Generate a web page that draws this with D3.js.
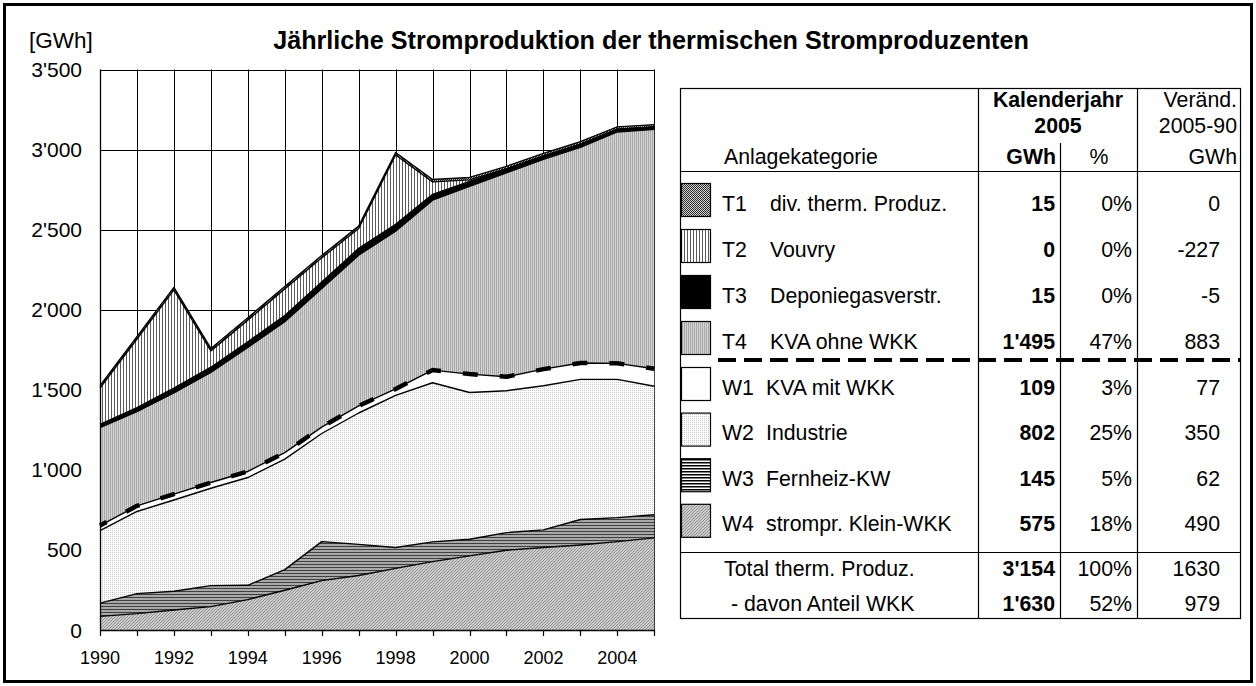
<!DOCTYPE html>
<html><head><meta charset="utf-8">
<script src="https://cdn.jsdelivr.net/npm/d3@7"></script>
<style>
body{margin:0;background:#fff}
svg{display:block}
text{font-family:"Liberation Sans",Arial,Helvetica,sans-serif;fill:#000}
</style></head>
<body><svg id="chart" width="1256" height="686"></svg>
<script>
// ---------- DATA ----------
const years = [1990,1991,1992,1993,1994,1995,1996,1997,1998,1999,2000,2001,2002,2003,2004,2005];
const W4 = [85,102,125,146,190,248,308,340,385,427,463,498,515,531,552,575];   // strompr. Klein-WKK
const W3 = [83,125,117,131,89,129,244,195,130,123,104,110,110,159,150,145];    // Fernheiz-KW
const W2 = [452,513,570,608,673,690,675,820,950,994,916,886,900,875,863,802];  // Industrie
const W1 = [32,35,36,36,38,41,40,45,40,79,115,87,104,102,100,109];             // KVA mit WKK
const T4 = [612,588,633,687,775,817,866,941,985,1061,1173,1274,1310,1347,1445,1495]; // KVA ohne WKK
const T3 = [20,25,30,33,35,38,40,42,43,36,30,25,22,20,17,15];                  // Deponiegasverstr.
const T2 = [227,429,613,102,135,167,151,124,433,78,10,0,0,0,0,0];              // Vouvry
const T1 = [15,15,15,15,15,15,15,15,15,15,15,15,15,15,15,15];                  // div. therm. Produz.

const yTicks = [0,500,1000,1500,2000,2500,3000,3500];
const yTickLabels = ["0","500","1'000","1'500","2'000","2'500","3'000","3'500"];
const xLabelYears = [1990,1992,1994,1996,1998,2000,2002,2004];

const title = "Jährliche Stromproduktion der thermischen Stromproduzenten";
const unitLabel = "[GWh]";

const tableCodes = ["T1","T2","T3","T4","W1","W2","W3","W4"];
const tableNames = ["div. therm. Produz.","Vouvry","Deponiegasverstr.","KVA ohne WKK","KVA mit WKK","Industrie","Fernheiz-KW","strompr. Klein-WKK"];
const tableGWh = ["15","0","15","1'495","109","802","145","575"];
const tablePct = ["0%","0%","0%","47%","3%","25%","5%","18%"];
const tableChange = ["0","-227","-5","883","77","350","62","490"];
const totalLabels = ["Total therm. Produz.","- davon Anteil WKK"];
const totalGWh = ["3'154","1'630"];
const totalPct = ["100%","52%"];
const totalChange = ["1630","979"];

// ---------- SETUP ----------
const svg = d3.select("#chart");
const defs = svg.append("defs");

function pat(id, w, h, draw){
  const p = defs.append("pattern").attr("id",id).attr("patternUnits","userSpaceOnUse")
    .attr("width",w).attr("height",h);
  draw(p);
}
pat("pT1",2,2,p=>{p.append("rect").attr("width",2).attr("height",2).attr("fill","#d0d0d0");
  p.append("rect").attr("width",1).attr("height",1).attr("fill","#303030");
  p.append("rect").attr("x",1).attr("y",1).attr("width",1).attr("height",1).attr("fill","#303030");});
pat("pT2",3,3,p=>{p.append("rect").attr("width",3).attr("height",3).attr("fill","#fff");
  p.append("rect").attr("width",1).attr("height",3).attr("fill","#5a5a5a");});
pat("pT4",2,2,p=>{p.append("rect").attr("width",2).attr("height",2).attr("fill","#d4d4d4");
  p.append("rect").attr("width",1).attr("height",2).attr("fill","#a8a8a8");});
pat("pW2",2,2,p=>{p.append("rect").attr("width",2).attr("height",2).attr("fill","#fff");
  p.append("rect").attr("width",1).attr("height",1).attr("fill","#c8c8c8");});
pat("pW3",3,3,p=>{p.append("rect").attr("width",3).attr("height",3).attr("fill","#a8a8a8");
  p.append("rect").attr("width",3).attr("height",1).attr("fill","#404040");});
pat("pW4",3,3,p=>{p.append("rect").attr("width",3).attr("height",3).attr("fill","#cccccc");
  p.append("rect").attr("x",0).attr("y",2).attr("width",1).attr("height",1).attr("fill","#909090");
  p.append("rect").attr("x",1).attr("y",1).attr("width",1).attr("height",1).attr("fill","#909090");
  p.append("rect").attr("x",2).attr("y",0).attr("width",1).attr("height",1).attr("fill","#909090");});
pat("pW3L",3,3,p=>{p.append("rect").attr("width",3).attr("height",3).attr("fill","#fff");
  p.append("rect").attr("width",3).attr("height",1.5).attr("fill","#000");});

const fills = {W4:"url(#pW4)",W3:"url(#pW3)",W2:"url(#pW2)",W1:"#ffffff",T4:"url(#pT4)",T3:"#000",T2:"url(#pT2)",T1:"url(#pT1)"};
const legendFills = {T1:"url(#pT1)",T2:"url(#pT2)",T3:"#000",T4:"url(#pT4)",W1:"#fff",W2:"url(#pW2)",W3:"url(#pW3L)",W4:"url(#pW4)"};

svg.append("rect").attr("x",4.5).attr("y",4.5).attr("width",1247).attr("height",677)
  .attr("fill","none").attr("stroke","#000").attr("stroke-width",3);

// ---------- SCALES ----------
const x = d3.scaleLinear().domain([1990,2005]).range([100,654.3]);
const y = d3.scaleLinear().domain([0,3500]).range([630,69.5]);

const g = svg.append("g");
g.selectAll("line.v").data(years).join("line")
  .attr("x1",d=>Math.round(x(d))+0.5).attr("x2",d=>Math.round(x(d))+0.5)
  .attr("y1",y(3500)).attr("y2",y(0)).attr("stroke","#000").attr("stroke-width",1);
g.selectAll("line.h").data(yTicks).join("line")
  .attr("x1",x(1990)).attr("x2",x(2005))
  .attr("y1",d=>Math.round(y(d))+0.5).attr("y2",d=>Math.round(y(d))+0.5)
  .attr("stroke","#000").attr("stroke-width",1);

const keys = ["W4","W3","W2","W1","T4","T3","T2","T1"];
const src = {W4,W3,W2,W1,T4,T3,T2,T1};
const rows = years.map((yr,i)=>{const o={year:yr}; keys.forEach(k=>o[k]=src[k][i]); return o;});
const stacked = d3.stack().keys(keys)(rows);

const area = d3.area().x(d=>x(d.data.year)).y0(d=>y(d[0])).y1(d=>y(d[1]));
const topLine = d3.line().x(d=>x(d.data.year)).y(d=>y(d[1]));

svg.append("g").selectAll("path").data(stacked).join("path")
  .attr("d",area).attr("fill",d=>fills[d.key]).attr("stroke","none");
svg.append("g").selectAll("path").data(stacked).join("path")
  .attr("d",topLine).attr("fill","none").attr("stroke","#000").attr("stroke-width",1.4)
  .attr("stroke-linejoin","round");

svg.append("path").datum(stacked[3]).attr("d",topLine).attr("fill","none")
  .attr("stroke","#000").attr("stroke-width",4.5).attr("stroke-dasharray","15,22")
  .attr("stroke-dashoffset",7.5);

svg.append("line").attr("x1",100.5).attr("x2",100.5).attr("y1",y(3500)).attr("y2",630.5).attr("stroke","#000").attr("stroke-width",1.3);
svg.append("line").attr("x1",x(1990)).attr("x2",x(2005)+0.5).attr("y1",630.5).attr("y2",630.5).attr("stroke","#000").attr("stroke-width",1.5);
svg.append("g").selectAll("line").data(years).join("line")
  .attr("x1",d=>Math.round(x(d))+0.5).attr("x2",d=>Math.round(x(d))+0.5)
  .attr("y1",630).attr("y2",636).attr("stroke","#000").attr("stroke-width",1.2);

svg.append("g").selectAll("text").data(yTicks).join("text")
  .attr("x",82).attr("y",d=>y(d)+7.5).attr("text-anchor","end")
  .style("font-size","21px").text((d,i)=>yTickLabels[i]);
svg.append("g").selectAll("text").data(xLabelYears).join("text")
  .attr("x",d=>x(d)).attr("y",664).attr("text-anchor","middle")
  .style("font-size","18px").text(d=>d);

svg.append("text").attr("x",29).attr("y",48).style("font-size","22.5px").text(unitLabel);
svg.append("text").attr("x",651).attr("y",49).attr("text-anchor","middle")
  .style("font-size","25.2px").style("font-weight","bold").text(title);

// ---------- TABLE ----------
const T = svg.append("g");
const tL=680.5, tR=1240.5, tTop=88.5, tBot=618.5;
const c1=978.5, c2=1060.5, c3=1137.5;
const FS = 21.3;
T.append("rect").attr("x",tL).attr("y",tTop).attr("width",tR-tL).attr("height",tBot-tTop)
  .attr("fill","#fff").attr("stroke","#000").attr("stroke-width",1.2);
T.append("line").attr("x1",tL).attr("x2",tR).attr("y1",171.5).attr("y2",171.5).attr("stroke","#000").attr("stroke-width",1.2);
T.append("line").attr("x1",tL).attr("x2",tR).attr("y1",552.5).attr("y2",552.5).attr("stroke","#000").attr("stroke-width",1.2);
T.append("line").attr("x1",c1).attr("x2",c1).attr("y1",tTop).attr("y2",tBot).attr("stroke","#000").attr("stroke-width",1.2);
T.append("line").attr("x1",c3).attr("x2",c3).attr("y1",tTop).attr("y2",tBot).attr("stroke","#000").attr("stroke-width",1.2);
T.append("line").attr("x1",c2).attr("x2",c2).attr("y1",143).attr("y2",tBot).attr("stroke","#000").attr("stroke-width",1.2);
T.append("line").attr("x1",718).attr("x2",tR).attr("y1",360).attr("y2",360)
  .attr("stroke","#000").attr("stroke-width",4).attr("stroke-dasharray","18,8");

function txt(xp, yc, s, opts={}){
  return T.append("text").attr("x",xp).attr("y",yc+7.6)
    .attr("text-anchor",opts.anchor||"start")
    .style("font-size",(opts.size||FS)+"px").style("font-weight",opts.bold?"bold":"normal").text(s);
}
txt((c1+c3)/2, 99, "Kalenderjahr", {anchor:"middle",bold:true});
txt((c1+c3)/2, 125, "2005", {anchor:"middle",bold:true});
txt(1056, 156, "GWh", {anchor:"end",bold:true});
txt(1099, 156, "%", {anchor:"middle"});
txt(1237, 99, "Veränd.", {anchor:"end"});
txt(1237, 125, "2005-90", {anchor:"end"});
txt(1237, 156, "GWh", {anchor:"end"});
txt(724, 156, "Anlagekategorie");

const rowY = tableCodes.map((c,i)=> i<4 ? 203 + i*46 : 387 + (i-4)*45.6);
tableCodes.forEach((c,i)=>{
  const yc = rowY[i];
  T.append("rect").attr("x",681.5).attr("y",yc-19.5).attr("width",29).attr("height",33)
    .attr("fill",legendFills[c]).attr("stroke","#000").attr("stroke-width",1.2);
  txt(722, yc, c);
  txt(c.startsWith("T")?770:766, yc, tableNames[i]);
  txt(1055, yc, tableGWh[i], {anchor:"end",bold:true});
  txt(1132, yc, tablePct[i], {anchor:"end"});
  txt(1220, yc, tableChange[i], {anchor:"end"});
});
const totY = [568, 603];
totalLabels.forEach((s,i)=>{
  txt(i===0?724:731, totY[i], s);
  txt(1055, totY[i], totalGWh[i], {anchor:"end",bold:true});
  txt(1132, totY[i], totalPct[i], {anchor:"end"});
  txt(1220, totY[i], totalChange[i], {anchor:"end"});
});
</script></body></html>
